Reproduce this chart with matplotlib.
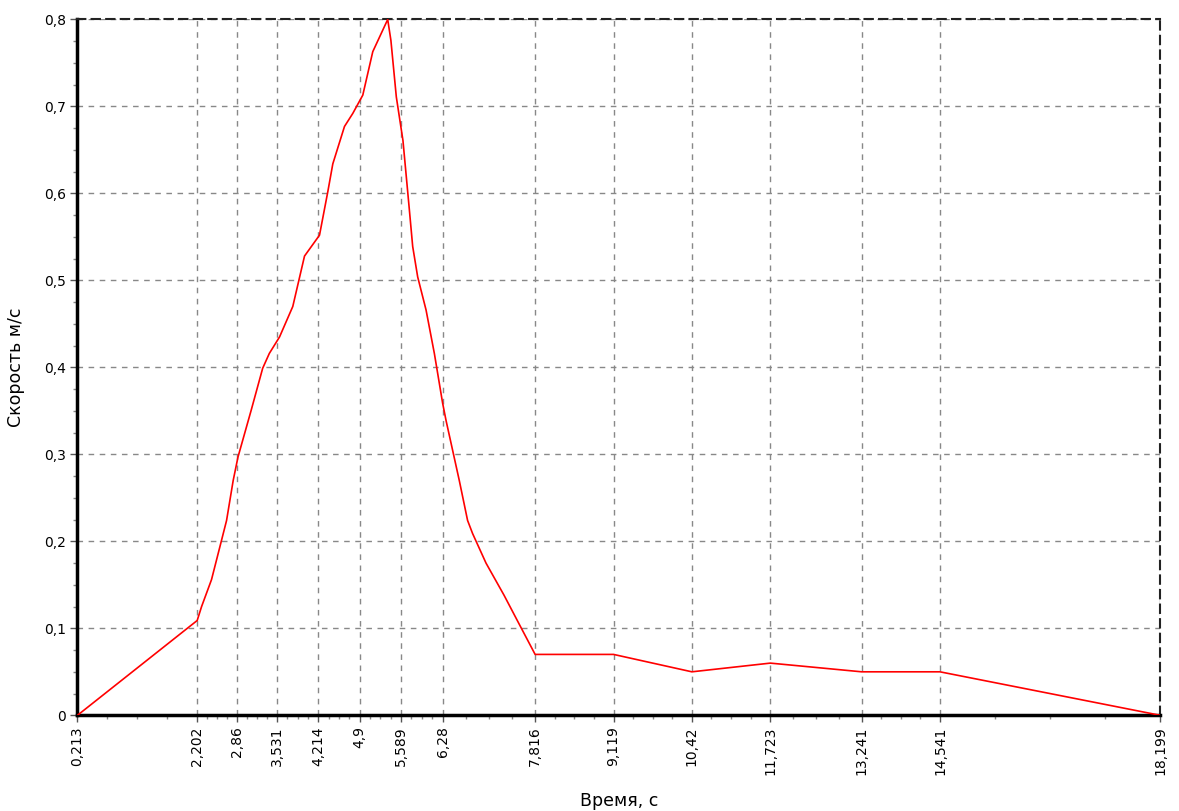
import numpy as np
import matplotlib.pyplot as plt
from matplotlib.ticker import FixedLocator, MultipleLocator

t = [0.213, 2.202, 2.275, 2.44, 2.58, 2.69, 2.80, 2.88, 3.10, 3.29, 3.40, 3.57, 3.79,
     3.985, 4.234, 4.372, 4.455, 4.649, 4.787, 4.953, 5.119, 5.367, 5.42, 5.51, 5.62,
     5.727, 5.782, 5.865, 6.004, 6.142, 6.279, 6.336, 6.556, 6.694, 6.777, 7.0, 7.30,
     7.55, 7.816, 9.119, 10.42, 11.723, 13.241, 14.541, 18.199]
v = [0.0, 0.109, 0.125, 0.156, 0.194, 0.224, 0.270, 0.297, 0.351, 0.399, 0.416, 0.435,
     0.470, 0.528, 0.552, 0.602, 0.634, 0.677, 0.692, 0.713, 0.763, 0.800, 0.776, 0.711,
     0.661, 0.581, 0.539, 0.504, 0.466, 0.416, 0.359, 0.339, 0.270, 0.224, 0.209, 0.175,
     0.138, 0.105, 0.070, 0.070, 0.050, 0.060, 0.050, 0.050, 0.0]
xticks = [0.213, 2.202, 2.86, 3.531, 4.214, 4.9, 5.589, 6.28, 7.816, 9.119, 10.42,
          11.723, 13.241, 14.541, 18.199]
xticklabels = ['0,213', '2,202', '2,86', '3,531', '4,214', '4,9', '5,589', '6,28',
               '7,816', '9,119', '10,42', '11,723', '13,241', '14,541', '18,199']
yticks = [0, 0.1, 0.2, 0.3, 0.4, 0.5, 0.6, 0.7, 0.8]
yticklabels = ['0', '0,1', '0,2', '0,3', '0,4', '0,5', '0,6', '0,7', '0,8']

plt.rcParams['font.family'] = ['DejaVu Sans']
fig = plt.figure(figsize=(11.79, 8.11), dpi=100)
ax = fig.add_axes([0.0657, 0.118, 0.9183, 0.858])

ax.plot(t, v, color='#ff0000', lw=1.2, zorder=3)

ax.set_xlim(0.213, 18.199)
ax.set_ylim(0, 0.8)

ax.set_xticks(xticks)
ax.set_xticklabels(xticklabels, rotation=90, fontsize=10)
ax.set_yticks(yticks)
ax.set_yticklabels(yticklabels, fontsize=10)

# minor ticks: quarters of each x interval, 0.025 on y
xt = np.array(xticks)
minor = []
for a, b in zip(xt[:-1], xt[1:]):
    minor += list(a + (b - a) * np.array([0.25, 0.5, 0.75]))
ax.xaxis.set_minor_locator(FixedLocator(minor))
ax.yaxis.set_minor_locator(MultipleLocator(0.025))
ax.tick_params(which='major', direction='out', length=5, width=1, color='#555555', pad=3)
ax.tick_params(which='minor', direction='out', length=3, width=1, color='#888888')

ax.grid(True, which='major', color='#888888', linestyle=(0, (4, 4)), lw=1)

ax.spines['left'].set_linewidth(2.5)
ax.spines['bottom'].set_linewidth(2.5)
for s in ['top', 'right']:
    ax.spines[s].set_linestyle((0, (4, 3)))
    ax.spines[s].set_linewidth(1.5)
    ax.spines[s].set_color('#222222')

ax.set_xlabel('Время, с', fontsize=12.5)
ax.set_ylabel('Скорость м/с', fontsize=12.5)
ax.xaxis.set_label_coords(0.5, -0.11)
ax.yaxis.set_label_coords(-0.048, 0.5)

fig.savefig('out.png', dpi=100)
